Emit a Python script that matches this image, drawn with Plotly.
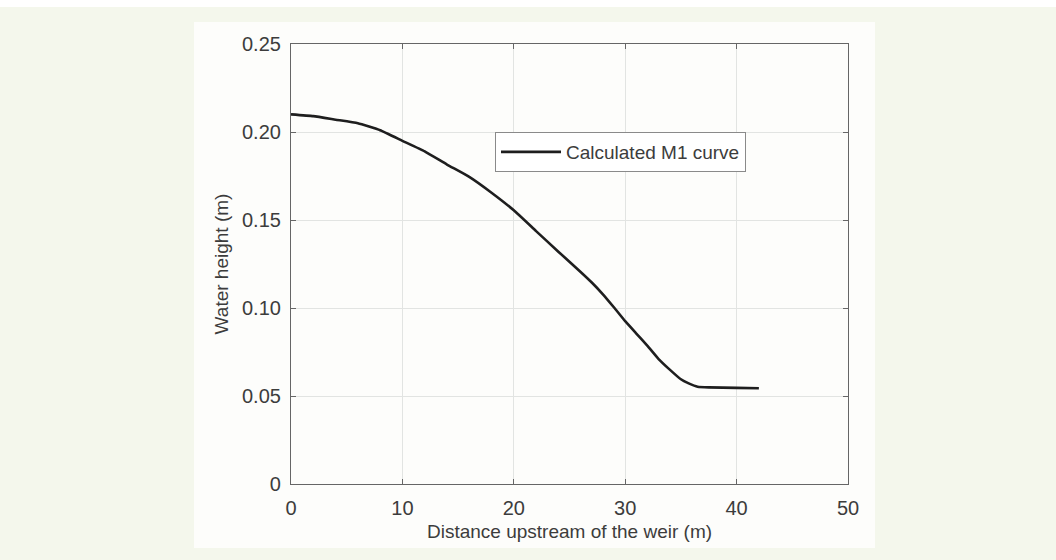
import plotly.graph_objects as go

# Data
distance_m = [0, 2, 4, 6, 8, 10, 12, 14, 16, 18, 20, 22, 24, 26, 27, 28, 29, 30, 31, 32, 33, 34, 35,
              35.7, 36.5, 37.5, 40, 42]
water_height_m = [0.210, 0.209, 0.207, 0.205, 0.201, 0.195, 0.189, 0.1815, 0.1745, 0.1655, 0.1555, 0.1437,
                  0.1320, 0.1205, 0.1145, 0.1078, 0.1003, 0.0925, 0.0855, 0.0785, 0.071, 0.065, 0.0595,
                  0.0572, 0.0553, 0.0549, 0.0546, 0.0544]
series_name = "Calculated M1 curve"
x_tickvals = [0, 10, 20, 30, 40, 50]
y_tickvals = [0, 0.05, 0.10, 0.15, 0.20, 0.25]
y_ticktext = ["0", "0.05", "0.10", "0.15", "0.20", "0.25"]

W, H = 1056, 560
L, R, T, B = 291, 848, 44, 484
pw, ph = R - L, B - T


def px(xp):
    return (xp - L) / pw


def py(yp):
    return (B - yp) / ph


fig = go.Figure()
fig.add_trace(go.Scatter(x=distance_m, y=water_height_m, mode="lines", name=series_name,
                         line=dict(color="#1e1e1e", width=2.6, shape="spline", smoothing=0.4)))

font_family = "Liberation Sans, Arial, sans-serif"
txt = "#3c3c3c"

fig.update_layout(
    width=W, height=H,
    margin=dict(l=L, r=W - R, t=T, b=H - B, pad=0),
    paper_bgcolor="#f4f7ec",
    plot_bgcolor="#ffffff",
    font=dict(family=font_family, color=txt),
    showlegend=True,
    legend=dict(x=px(495), y=py(132), xanchor="left", yanchor="top",
                bgcolor="#ffffff", bordercolor="#8a8a8a", borderwidth=1,
                itemwidth=60,
                font=dict(size=19, color=txt)),
    shapes=[
        dict(type="rect", xref="paper", yref="paper", x0=px(194), x1=px(875), y0=py(548), y1=py(22),
             fillcolor="#fdfdfb", line=dict(width=0), layer="below"),
        dict(type="rect", xref="paper", yref="paper", x0=px(0), x1=px(W), y0=py(7), y1=py(0),
             fillcolor="#ffffff", line=dict(width=0), layer="below"),
    ],
)

axis_common = dict(
    showline=True, linecolor="#666666", linewidth=1.2, mirror="ticks",
    ticks="inside", ticklen=5, tickcolor="#666666", tickwidth=1,
    showgrid=True, gridcolor="#e2e4e2", gridwidth=1, zeroline=False,
    tickfont=dict(size=20, color=txt),
)

fig.update_xaxes(range=[0, 50], tickvals=x_tickvals, ticklabelstandoff=6,
                 title=dict(text="Distance upstream of the weir (m)", font=dict(size=19, color=txt), standoff=6),
                 **axis_common)
fig.update_yaxes(range=[0, 0.25], tickvals=y_tickvals, ticktext=y_ticktext, ticklabelstandoff=5,
                 title=dict(text="Water height (m)", font=dict(size=19, color=txt), standoff=8),
                 **axis_common)

fig.write_html("out.html", config={"displayModeBar": False},
               post_script="document.body.style.margin='0px';document.body.style.overflow='hidden';")
